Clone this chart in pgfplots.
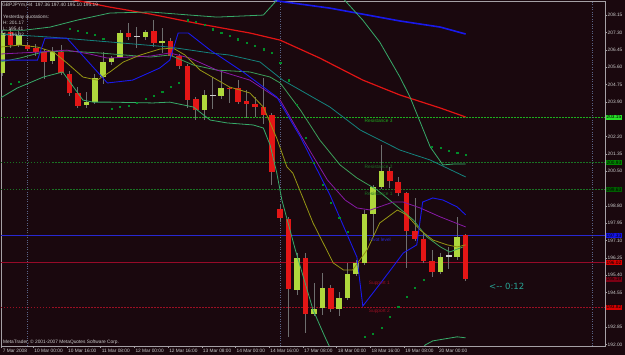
\documentclass[border=0pt]{standalone}
\usepackage{pgfplots}
\pgfplotsset{compat=1.18}
\usepackage{pgfplotstable}
\usepackage{fontspec}
\setmainfont{Liberation Sans}
\newfontfamily\dejavu{DejaVu Sans}
\newcommand\mtfont{\fontsize{4.8pt}{5.6pt}\selectfont}

\definecolor{bg}{RGB}{26,8,14}
\definecolor{bullc}{RGB}{175,215,60}
\definecolor{bearc}{RGB}{228,22,22}
\definecolor{wick}{RGB}{110,110,110}
\definecolor{axgray}{RGB}{165,160,165}
\definecolor{lab}{RGB}{205,205,205}
\definecolor{maR}{RGB}{225,20,20}
\definecolor{maB}{RGB}{25,25,235}
\definecolor{bandG}{RGB}{55,170,105}
\definecolor{midG}{RGB}{60,160,90}
\definecolor{tealL}{RGB}{20,130,125}
\definecolor{purp}{RGB}{135,25,165}
\definecolor{oliv}{RGB}{150,150,20}
\definecolor{sar}{RGB}{0,140,40}
\definecolor{rthree}{RGB}{30,175,30}
\definecolor{rlow}{RGB}{25,115,35}
\definecolor{piv}{RGB}{40,40,210}
\definecolor{ycl}{RGB}{150,10,40}
\definecolor{sup}{RGB}{155,15,35}
\definecolor{sepc}{RGB}{90,100,135}
\definecolor{timer}{RGB}{40,165,150}

\pgfplotstableread{
x o h l c
-3 205.31 207.41 205.16 207.27
-1 206.68 207.37 206.58 207.17
3 205.90 206.58 205.75 206.34
7 203.74 204.38 203.59 203.88
8 203.88 205.26 203.79 205.06
9 205.11 206.34 204.77 205.85
10 205.85 206.14 205.70 206.04
11 206.09 207.41 206.04 207.27
14 207.07 207.41 206.92 207.32
16 206.78 207.51 206.29 206.88
21 203.49 204.47 203.00 204.23
23 204.18 205.36 204.03 204.57
32 194.67 196.48 194.42 196.24
34 193.49 195.01 193.40 193.73
35 193.79 195.50 193.44 194.77
37 193.74 194.57 193.40 194.28
38 194.28 195.99 194.18 195.45
39 195.45 196.14 195.35 195.99
40 195.99 198.59 195.89 198.39
41 198.39 199.82 197.27 199.72
42 199.72 201.78 199.62 200.50
49 195.55 196.48 195.45 196.29
51 196.29 198.25 196.14 197.27
}\bulltab

\pgfplotstableread{
x o h l c
-2 207.32 207.51 206.53 206.68
0 206.68 206.83 206.39 206.48
1 206.53 206.73 206.14 206.34
2 206.34 206.48 205.01 205.85
4 206.34 206.68 205.21 205.31
5 205.26 205.40 204.18 204.33
6 204.33 204.62 203.59 203.69
12 207.27 207.76 206.92 207.07
15 207.37 207.90 206.58 206.78
17 206.88 207.02 206.04 206.14
18 206.14 206.24 205.50 205.65
19 205.65 205.75 203.59 203.98
20 204.03 204.13 203.00 203.49
24 204.59 204.62 203.84 204.53
25 204.57 204.96 203.79 203.88
26 203.93 204.47 203.10 203.79
27 203.79 204.13 203.15 203.64
28 203.64 205.06 202.81 203.25
29 203.25 203.35 199.82 200.45
30 198.64 198.84 198.00 198.20
31 198.15 198.25 192.37 194.72
33 196.24 196.48 192.56 193.49
36 194.77 194.91 193.59 193.74
43 200.50 200.70 199.67 200.01
44 199.96 200.21 199.28 199.42
45 199.42 199.47 195.75 197.56
46 197.56 199.18 197.07 197.17
47 197.17 197.46 195.99 196.09
48 196.09 196.63 195.31 195.55
52 197.36 197.40 195.10 195.19
}\beartab

\pgfplotstableread{
x o h l c
13 207.12 207.56 206.53 207.08
22 204.23 205.11 203.54 204.19
50 196.33 196.78 195.70 196.37
}\dojitab

\pgfplotsset{
  wickplot/.style={draw=none, no markers, forget plot, error bars/.cd, y dir=both, y explicit, error mark=none, error bar style={line width=0.8pt, draw=wick, solid}},
  bodyplot/.style={draw=none, no markers, forget plot, error bars/.cd, y dir=both, y explicit, error mark=none, error bar style={line width=5.6pt, draw=#1, solid}},
}

\begin{document}
\begin{tikzpicture}
\path[use as bounding box, fill=bg] (0,0) rectangle (625pt,355pt);
\begin{axis}[
  at={(1pt,9pt)}, anchor=south west, scale only axis,
  width=604pt, height=345pt,
  xmin=-3.12, xmax=68.53, ymin=191.92, ymax=208.84,
  clip mode=individual,
  axis line style={draw=axgray, line width=0.5pt},
  tick align=outside, major tick length=2pt,
  every tick/.style={draw=axgray, line width=0.4pt},
  xtick pos=left, ytick pos=right, yticklabel pos=right,
  xtick={-3.05,0.7,4.7,8.7,12.7,16.7,20.7,24.7,28.7,32.7,36.7,40.7,44.7,48.7},
  xticklabels={7 Mar 2008,10 Mar 00:00,10 Mar 16:00,11 Mar 08:00,12 Mar 00:00,12 Mar 16:00,13 Mar 08:00,14 Mar 00:00,14 Mar 16:00,17 Mar 08:00,18 Mar 00:00,18 Mar 16:00,19 Mar 08:00,20 Mar 00:00},
  ytick={192.00,192.85,194.55,195.40,196.25,197.10,197.95,198.80,200.50,201.35,202.20,203.90,204.75,205.60,206.45,207.30,208.15},
  yticklabels={192.00,192.85,194.55,195.40,196.25,197.10,197.95,198.80,200.50,201.35,202.20,203.90,204.75,205.60,206.45,207.30,208.15},
  xticklabel style={font=\mtfont, text=lab, anchor=north west, inner sep=0pt, xshift=1pt, yshift=-0.5pt},
  yticklabel style={font=\mtfont, text=lab, anchor=west, inner sep=0pt, xshift=0.5pt},
]
% level lines
\addplot[rthree, line width=0.5pt, dash pattern=on 1.5pt off 1.5pt] coordinates {(-3.12,203.15) (68.53,203.15)};
\addplot[rlow, line width=0.5pt, dash pattern=on 1.5pt off 1.5pt] coordinates {(-3.12,200.91) (68.53,200.91)};
\addplot[rlow, line width=0.5pt, dash pattern=on 1.5pt off 1.5pt] coordinates {(-3.12,199.60) (68.53,199.60)};
\addplot[piv, line width=0.6pt] coordinates {(-3.12,197.33) (68.53,197.33)};
\addplot[ycl, line width=0.6pt] coordinates {(-3.12,196.02) (68.53,196.02)};
\addplot[sup, line width=0.5pt, dash pattern=on 1.5pt off 1.5pt] coordinates {(-3.12,193.82) (68.53,193.82)};
% period separators
\addplot[sepc, line width=0.6pt, dash pattern=on 0.8pt off 1.6pt] coordinates {(0,191.92) (0,208.84)};
\addplot[sepc, line width=0.6pt, dash pattern=on 0.8pt off 1.6pt] coordinates {(30,191.92) (30,208.84)};
\addplot[sepc, line width=0.6pt, dash pattern=on 0.8pt off 1.6pt] coordinates {(67,191.92) (67,208.84)};
% wicks
\addplot[wickplot] table[x=x, y expr={(\thisrow{h}+\thisrow{l})/2}, y error expr={(\thisrow{h}-\thisrow{l})/2}] {\bulltab};
\addplot[wickplot] table[x=x, y expr={(\thisrow{h}+\thisrow{l})/2}, y error expr={(\thisrow{h}-\thisrow{l})/2}] {\beartab};
\addplot[wickplot] table[x=x, y expr={(\thisrow{h}+\thisrow{l})/2}, y error expr={(\thisrow{h}-\thisrow{l})/2}] {\dojitab};
% bodies
\addplot[bodyplot=bullc] table[x=x, y expr={(\thisrow{o}+\thisrow{c})/2}, y error expr={abs(\thisrow{c}-\thisrow{o})/2}] {\bulltab};
\addplot[bodyplot=bearc] table[x=x, y expr={(\thisrow{o}+\thisrow{c})/2}, y error expr={abs(\thisrow{c}-\thisrow{o})/2}] {\beartab};
\addplot[bodyplot=lab] table[x=x, y expr={(\thisrow{o}+\thisrow{c})/2}, y error expr={abs(\thisrow{c}-\thisrow{o})/2}] {\dojitab};
% indicators
\addplot[maR, line width=1.2pt] coordinates {(3.9,209.03) (9.8,208.54) (14.6,208.20) (20.5,207.71) (26.4,207.27) (30.0,206.92) (34.7,206.04) (39.8,204.96) (44.2,204.23) (49.0,203.59) (52,203.15)};
\addplot[maB, line width=1.6pt] coordinates {(28.8,208.98) (29.7,208.84) (35.9,208.49) (44.2,207.86) (49.0,207.56) (52,207.22)};
\addplot[bandG, line width=0.8pt] coordinates {(-3.2,207.41) (-0.3,207.41) (2.7,207.56) (5.9,207.90) (9.8,208.25) (14.6,208.30) (19.3,208.15) (22.5,208.05) (28.0,208.15) (29.4,208.79) (30.0,209.13) (33.5,210.5) (37.1,209.13) (39.8,207.90) (41.8,206.83) (44.2,205.11) (45.4,204.13) (47.8,201.68) (49.3,200.80) (50.7,200.85) (52,200.85)};
\addplot[tealL, line width=0.8pt] coordinates {(-3.2,207.22) (2.7,207.07) (9.8,206.83) (16.9,206.58) (21.7,206.29) (24.0,206.19) (27.6,205.85) (30.3,204.96) (35.9,203.64) (39.5,202.51) (44.2,201.53) (47.8,201.04) (52,200.21)};
\addplot[bandG, line width=0.8pt] coordinates {(-3.2,204.08) (-1.2,204.57) (1.9,205.11) (4.2,205.36) (6.6,203.98) (7.8,203.88) (9.8,203.88) (14.9,203.84) (16.9,203.88) (19.7,203.64) (21.7,203.00) (23.7,202.86) (26.8,202.76) (28.0,202.61) (28.8,201.78) (29.6,200.40) (30.2,199.08) (31.8,196.63) (33.9,193.69) (35.3,192.37) (37.1,190.8) (44.2,190.3) (47.2,191.97) (48.1,192.17) (51.0,192.37) (52,192.32)};
\addplot[midG, line width=0.8pt] coordinates {(-3.2,205.85) (-0.9,206.04) (1.9,206.34) (4.7,206.39) (8.6,206.29) (14.6,206.09) (16.9,206.19) (19.7,205.70) (22.5,205.45) (26.4,205.36) (28.8,205.11) (30.0,204.82) (32.4,203.49) (34.7,202.02) (37.1,200.80) (39.1,200.16) (41.5,199.57) (43.4,198.93) (45.8,198.10) (47.4,197.27) (49.0,196.78) (50.1,196.53) (51.7,196.78)};
\addplot[purp, line width=0.8pt] coordinates {(-3.2,206.24) (1.5,206.34) (4.7,206.43) (7.4,206.24) (9.5,206.04) (14.6,206.14) (16.9,206.29) (19.3,206.04) (22.5,205.45) (26.4,204.96) (30.0,203.98) (32.4,202.27) (35.6,200.06) (37.7,199.08) (39.1,198.69) (40.7,198.59) (43.4,198.98) (44.6,198.98) (46.6,198.69) (49.0,198.25) (52,197.76)};
\addplot[oliv, line width=0.8pt] coordinates {(-3.2,206.58) (-0.9,206.68) (1.2,206.58) (3.1,206.34) (4.7,205.80) (6.6,205.11) (8.3,204.96) (9.8,205.36) (11.4,205.85) (13.4,206.19) (15.7,206.48) (17.3,206.53) (18.7,206.19) (20.5,205.45) (24.0,204.62) (26.4,204.33) (28.0,203.64) (29.6,202.10) (30.8,200.70) (31.5,200.40) (33.9,197.95) (36.3,195.99) (37.5,195.65) (38.6,195.65) (40.3,196.63) (41.8,197.95) (43.9,198.59) (45.0,198.35) (46.6,197.61) (48.1,197.12) (49.8,196.88) (51.0,196.78) (52,196.88)};
\addplot[maB, line width=0.9pt] coordinates {(-3.2,205.94) (1.2,205.94) (2.1,207.02) (4.7,207.02) (9.5,204.82) (12.5,204.96) (15.7,205.55) (16.9,205.94) (17.9,207.27) (19.1,207.27) (21.7,206.43) (25.6,205.36) (29.6,204.13) (32.4,202.17) (35.9,199.33) (39.1,196.28) (39.8,193.88) (42.2,195.16) (44.6,196.48) (46.2,196.88) (46.9,198.98) (48.1,199.18) (49.3,199.08) (51.0,198.74) (52,198.35)};
% parabolic SAR
\addplot[only marks, mark=square*, mark size=0.6pt, sar] coordinates {(-2,204.80) (-1,204.87) (5,207.50) (6,207.40) (7,207.30) (8,207.17) (9,207.00) (10,203.54) (11,203.64) (12,203.69) (13,203.84) (14,204.03) (15,204.18) (16,204.38) (17,204.62) (18,204.82) (19,207.90) (20,207.81) (21,207.66) (22,207.46) (23,207.27) (24,207.12) (25,206.97) (26,206.78) (27,206.63) (28,206.48) (29,206.29) (30,205.80) (31,204.96) (32,203.74) (33,202.12) (34,200.89) (35,199.82) (36,198.93) (37,198.20) (38,197.51) (40,192.37) (41,192.51) (42,192.81) (43,193.35) (44,193.84) (45,194.33) (46,194.77) (47,195.16) (48,201.68) (49,201.63) (50,201.48) (51,201.39) (52,201.29)};
% level texts
\node[font=\mtfont, text=rthree, anchor=north west, inner sep=0pt] at (axis cs:40,203.05) {Resistance 3};
\node[font=\mtfont, text=rlow, anchor=north west, inner sep=0pt] at (axis cs:40,200.81) {Resistance 2};
\node[font=\mtfont, text=rlow, anchor=north west, inner sep=0pt] at (axis cs:40,199.50) {Resistance 1};
\node[font=\mtfont, text=piv, anchor=north west, inner sep=0pt] at (axis cs:40.5,197.23) {Pivot level};
\node[font=\mtfont, text=sup, anchor=north west, inner sep=0pt] at (axis cs:40.5,195.09) {Support 1};
\node[font=\mtfont, text=sup, anchor=north west, inner sep=0pt] at (axis cs:40.5,193.72) {Support 2};
% price boxes on the right scale
\node[font=\mtfont, fill={rgb,255:red,40;green,225;blue,40}, text=black, anchor=west, inner xsep=0.8pt, inner ysep=0.8pt, xshift=0.6pt] at (axis cs:68.53,203.15) {203.15};
\node[font=\mtfont, fill={rgb,255:red,0;green,135;blue,0}, text=black, anchor=west, inner xsep=0.8pt, inner ysep=0.8pt, xshift=0.6pt] at (axis cs:68.53,200.91) {200.93};
\node[font=\mtfont, fill={rgb,255:red,0;green,95;blue,0}, text=black, anchor=west, inner xsep=0.8pt, inner ysep=0.8pt, xshift=0.6pt] at (axis cs:68.53,199.60) {199.63};
\node[font=\mtfont, fill={rgb,255:red,20;green,20;blue,230}, text=black, anchor=west, inner xsep=0.8pt, inner ysep=0.8pt, xshift=0.6pt] at (axis cs:68.53,197.33) {197.33};
\node[font=\mtfont, fill={rgb,255:red,220;green,0;blue,0}, text=black, anchor=west, inner xsep=0.8pt, inner ysep=0.8pt, xshift=0.6pt] at (axis cs:68.53,196.02) {196.02};
\node[font=\mtfont, fill={rgb,255:red,125;green,0;blue,20}, text=black, anchor=west, inner xsep=0.8pt, inner ysep=0.8pt, xshift=0.6pt] at (axis cs:68.53,195.19) {195.19};
\node[font=\mtfont, fill={rgb,255:red,215;green,0;blue,0}, text=black, anchor=west, inner xsep=0.8pt, inner ysep=0.8pt, xshift=0.6pt] at (axis cs:68.53,193.82) {193.82};
\end{axis}
% header texts
\node[font=\mtfont, text=lab, anchor=west, inner sep=0pt] at (2pt,350pt) {GBPJPYm,H4\ \ 197.36 197.40 195.10 195.19};
\node[font=\mtfont, text=lab, anchor=west, inner sep=0pt] at (3pt,338pt) {Yesterday quotations:};
\node[font=\mtfont, text=lab, anchor=west, inner sep=0pt] at (3pt,331.7pt) {H: 201.17};
\node[font=\mtfont, text=lab, anchor=west, inner sep=0pt] at (3pt,325.7pt) {L: 195.41};
\node[font=\mtfont, text=lab, anchor=west, inner sep=0pt] at (3pt,320.5pt) {C: 196.02};
\node[font=\mtfont, text=lab, anchor=west, inner sep=0pt] at (3pt,13pt) {MetaTrader, © 2001-2007 MetaQuotes Software Corp.};
\node[font={\dejavu\fontsize{8.5pt}{10pt}\selectfont}, text=timer, anchor=west, inner sep=0pt] at (489pt,69pt) {<{-}{-} 0:12};
\end{tikzpicture}
\end{document}
